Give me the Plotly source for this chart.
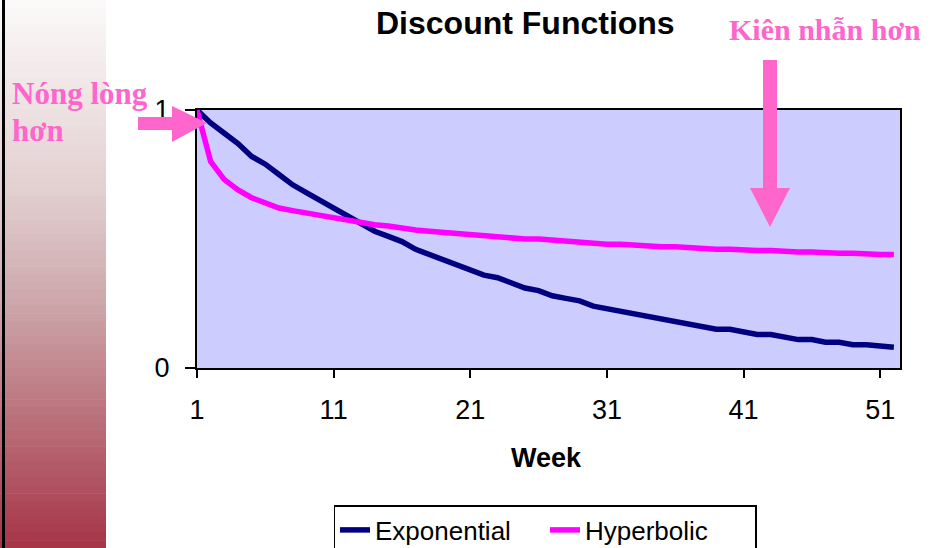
import plotly.graph_objects as go

weeks = list(range(1, 53))
exponential = [1.00, 0.95, 0.91, 0.87, 0.82, 0.79, 0.75, 0.71, 0.68, 0.65,
               0.62, 0.59, 0.56, 0.53, 0.51, 0.49, 0.46, 0.44, 0.42, 0.40,
               0.38, 0.36, 0.35, 0.33, 0.31, 0.30, 0.28, 0.27, 0.26, 0.24,
               0.23, 0.22, 0.21, 0.20, 0.19, 0.18, 0.17, 0.16, 0.15, 0.15,
               0.14, 0.13, 0.13, 0.12, 0.11, 0.11, 0.10, 0.10, 0.09, 0.09,
               0.085, 0.08]
hyperbolic = [1.00, 0.80, 0.73, 0.69, 0.66, 0.64, 0.62, 0.61, 0.60, 0.59,
              0.58, 0.57, 0.56, 0.555, 0.55, 0.54, 0.535, 0.53, 0.525, 0.52,
              0.515, 0.51, 0.51, 0.505, 0.50, 0.50, 0.495, 0.49, 0.49, 0.485,
              0.48, 0.48, 0.475, 0.475, 0.47, 0.47, 0.465, 0.465, 0.46, 0.46,
              0.455, 0.455, 0.455, 0.45, 0.45, 0.45, 0.445, 0.445, 0.445, 0.44,
              0.44, 0.44]
x_ticks = [1, 11, 21, 31, 41, 51]
y_ticks = [0, 1]

W, H = 930, 548
L, R, T, B = 197, 900, 110, 368


def px(x):
    return (x - L) / (R - L)


def py(y):
    return (B - y) / (B - T)


fig = go.Figure()
fig.add_trace(go.Scatter(x=weeks, y=exponential, mode="lines", name="Exponential",
                         line=dict(color="#000080", width=5.5)))
fig.add_trace(go.Scatter(x=weeks, y=hyperbolic, mode="lines", name="Hyperbolic",
                         line=dict(color="#FF00FF", width=5.5)))

shapes = []
# left gradient band
stops = [(0, (252, 250, 250)), (195, (226, 206, 207)), (300, (205, 168, 172)),
         (420, (186, 112, 122)), (548, (166, 52, 72))]


def col_at(y):
    for (y0, c0), (y1, c1) in zip(stops[:-1], stops[1:]):
        if y0 <= y <= y1:
            f = (y - y0) / (y1 - y0)
            return tuple(int(round(a + (b - a) * f)) for a, b in zip(c0, c1))
    return stops[-1][1]


n = 70
for i in range(n):
    y0 = H * i / n
    y1 = H * (i + 1) / n + 0.6
    c = col_at((y0 + y1) / 2)
    shapes.append(dict(type="rect", xref="paper", yref="paper",
                       x0=px(0), x1=px(106), y0=py(y1), y1=py(y0),
                       fillcolor="rgb(%d,%d,%d)" % c, line=dict(width=0), layer="below"))
shapes.append(dict(type="line", xref="paper", yref="paper", x0=px(3.5), x1=px(3.5),
                   y0=py(0), y1=py(H), line=dict(color="black", width=3)))

pink = "#FF66CC"
# down arrow
d = "M %f,%f L %f,%f L %f,%f L %f,%f L %f,%f L %f,%f L %f,%f Z" % (
    px(763), py(60), px(777), py(60), px(777), py(188), px(790), py(188),
    px(770), py(227), px(750), py(188), px(763), py(188))
shapes.append(dict(type="path", xref="paper", yref="paper", path=d,
                   fillcolor=pink, line=dict(width=0)))
# right arrow
d2 = "M %f,%f L %f,%f L %f,%f L %f,%f L %f,%f L %f,%f L %f,%f Z" % (
    px(138), py(117), px(172), py(117), px(172), py(106), px(207), py(123),
    px(172), py(142), px(172), py(130), px(138), py(130))
shapes.append(dict(type="path", xref="paper", yref="paper", path=d2,
                   fillcolor=pink, line=dict(width=0)))

serif = "Liberation Serif, Times New Roman"
sans = "Liberation Sans, Arial"


def ann(text, x, y, size, family, color, xanchor="center"):
    return dict(text=text, x=px(x), y=py(y), xref="paper", yref="paper",
                xanchor=xanchor, yanchor="middle", showarrow=False,
                font=dict(family=family, size=size, color=color))


annotations = [
    ann("<b>Discount Functions</b>", 525, 23, 32, sans, "black"),
    ann("<b>Kiên nhẫn hơn</b>", 825, 29, 30, serif, pink),
    ann("<b>Nóng lòng</b>", 10, 94, 31, serif, pink, xanchor="left"),
    ann("<b>hơn</b>", 10, 130, 31, serif, pink, xanchor="left"),
    ann("<b>Week</b>", 546, 458, 27, sans, "black"),
]

fig.update_layout(
    width=W, height=H,
    margin=dict(l=L, r=W - R, t=T, b=H - B, autoexpand=False),
    paper_bgcolor="white", plot_bgcolor="#CCCCFF",
    font=dict(family=sans, color="black"),
    shapes=shapes, annotations=annotations,
    showlegend=True,
    legend=dict(orientation="h", x=px(545), xanchor="center", y=py(505), yanchor="top",
                bordercolor="black", borderwidth=1.5, bgcolor="white",
                entrywidth=165, entrywidthmode="pixels",
                font=dict(size=26, family=sans)),
    xaxis=dict(range=[1, 52.45], tickvals=x_ticks, ticks="outside", ticklen=8,
               tickcolor="black", tickwidth=1.5, showgrid=False, zeroline=False,
               showline=True, linecolor="black", linewidth=2, mirror=True,
               tickfont=dict(size=27), ticklabelstandoff=9),
    yaxis=dict(range=[0, 1], tickvals=y_ticks, ticks="outside", ticklen=10,
               tickcolor="black", tickwidth=1.5, showgrid=False, zeroline=False,
               showline=True, linecolor="black", linewidth=2, mirror=True,
               tickfont=dict(size=27), ticklabelstandoff=10),
)

fig.write_html("out.html", config={"displayModeBar": False},
               post_script="document.body.style.margin='0px';")
